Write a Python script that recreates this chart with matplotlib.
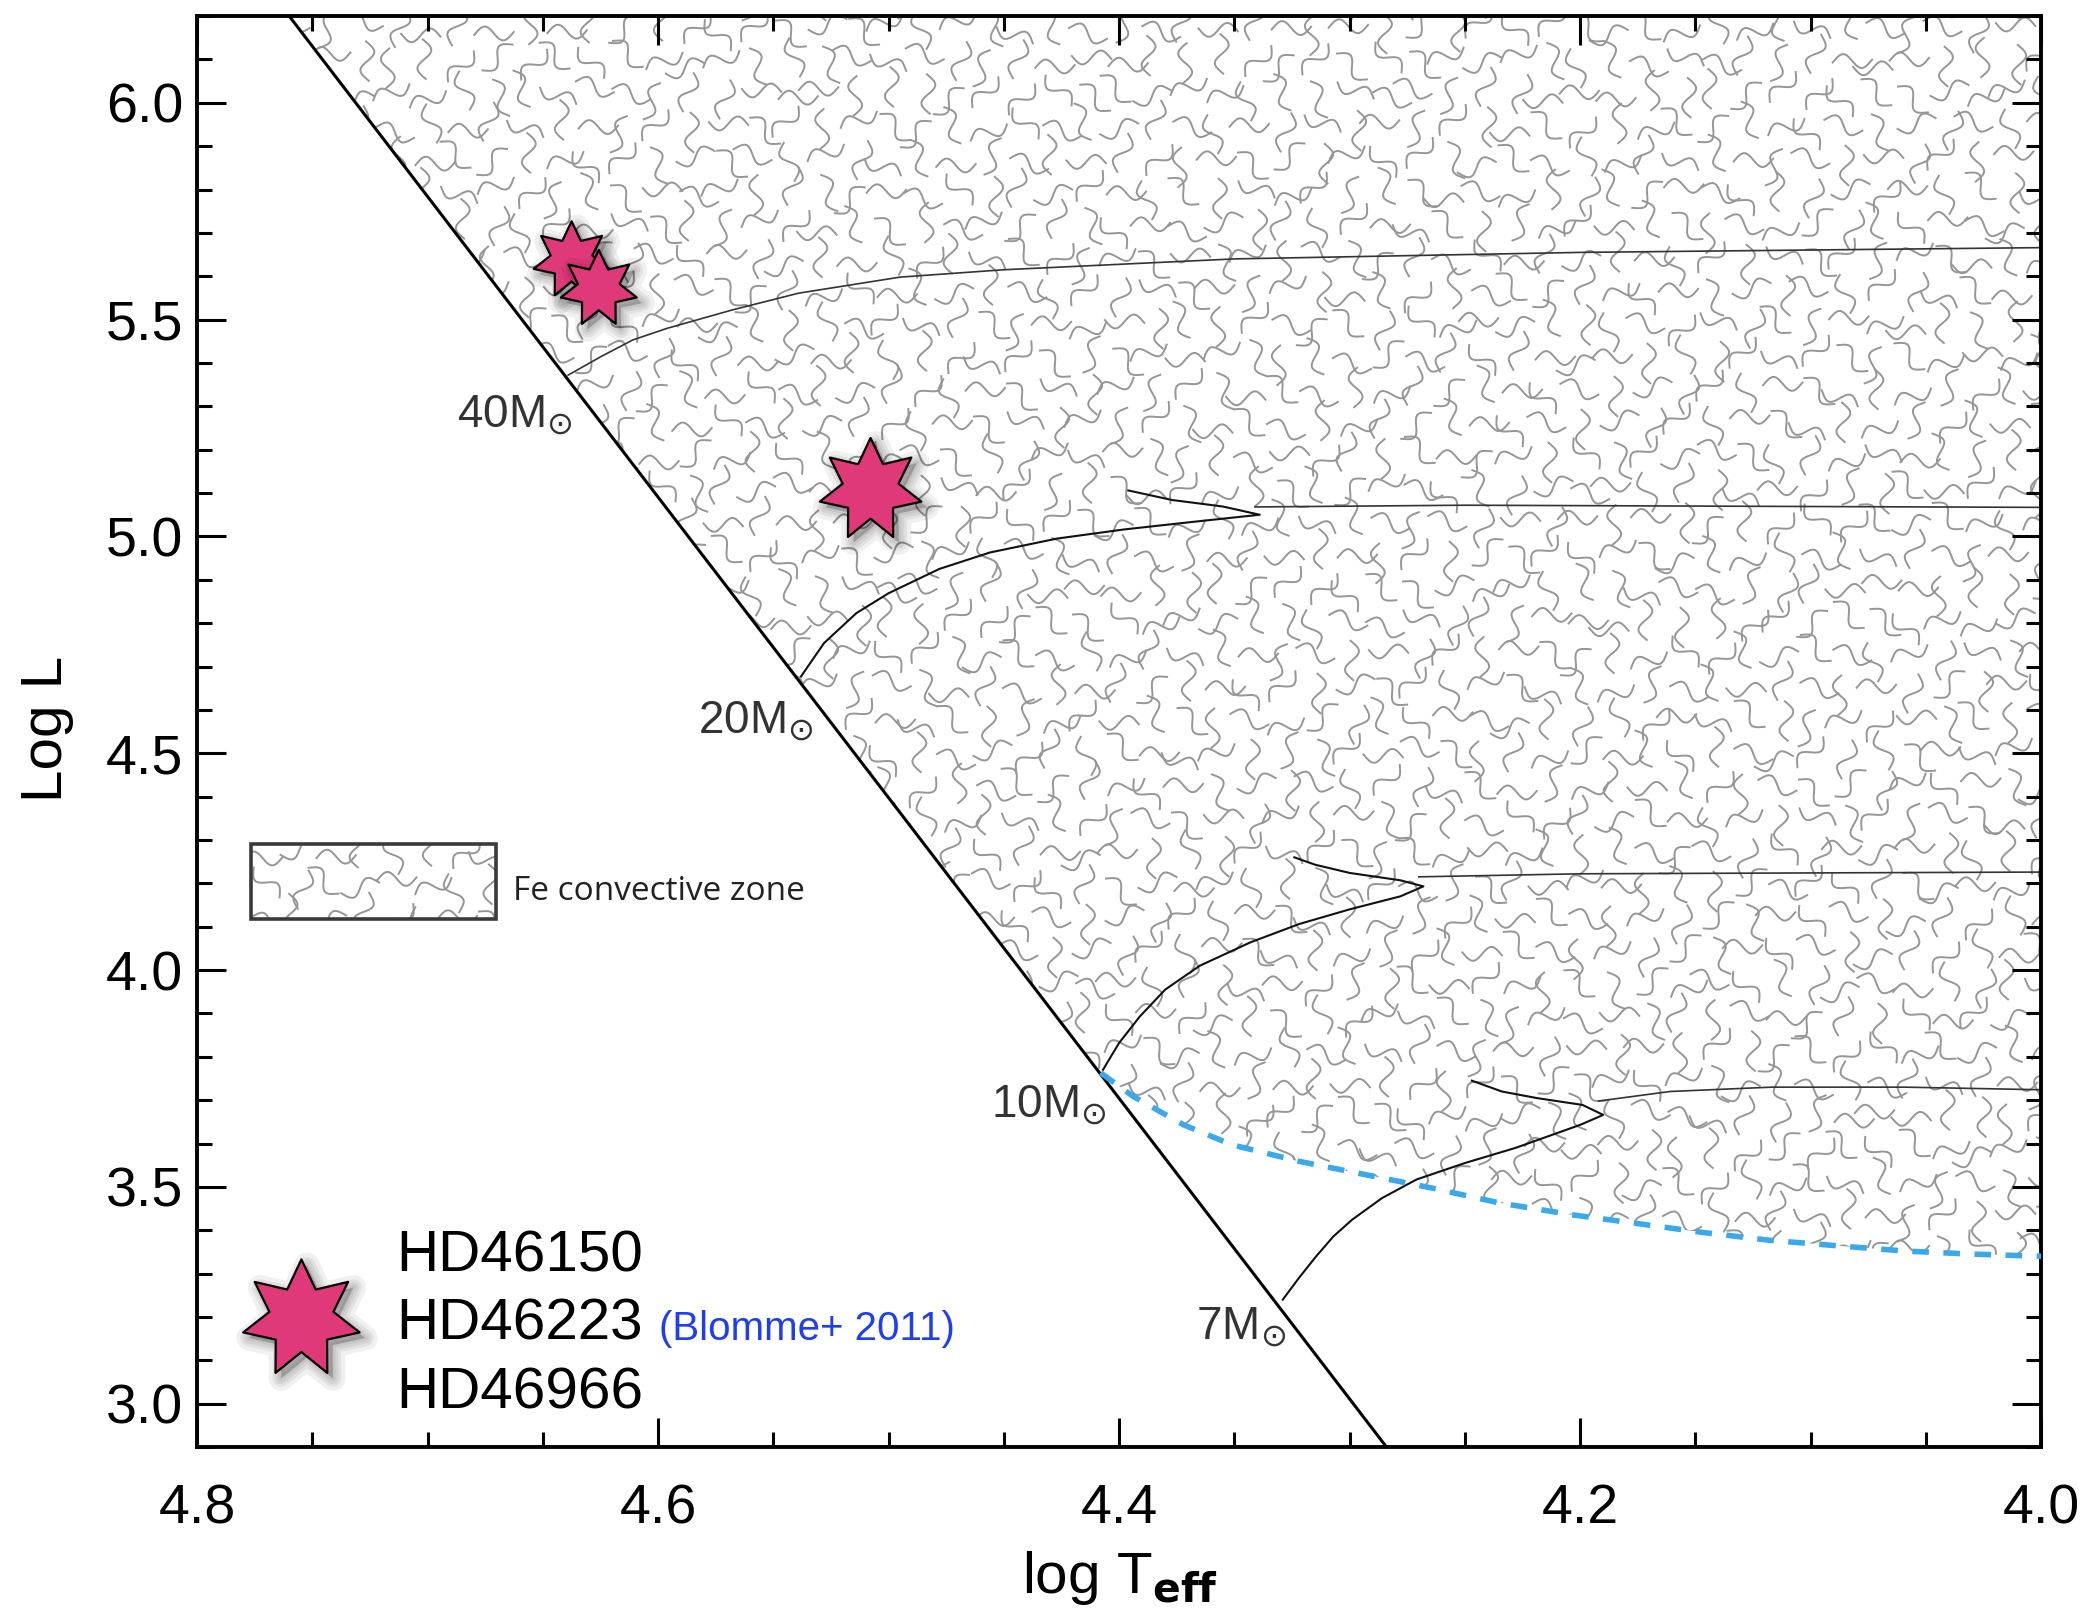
import numpy as np
import matplotlib
matplotlib.use('Agg')
import matplotlib.pyplot as plt
import matplotlib.patheffects as pe
from matplotlib.collections import LineCollection
from matplotlib.patches import Polygon, Rectangle
from matplotlib.path import Path
from matplotlib.markers import MarkerStyle
from matplotlib.transforms import Affine2D

plt.rcParams['font.family'] = ['Liberation Sans', 'DejaVu Sans']

# axis ranges and ticks
x_lim = (4.8, 4.0)
y_lim = (2.9, 6.2)
x_major = [4.8, 4.6, 4.4, 4.2, 4.0]
y_major = [3.0, 3.5, 4.0, 4.5, 5.0, 5.5, 6.0]

# zero age main sequence
zams_logt = [4.760, 4.284]
zams_logl = [6.20, 2.90]

# evolutionary tracks: main sequence + hook, then the crossing branch
t40_logt = [4.639, 4.625, 4.611, 4.596, 4.568, 4.539, 4.495, 4.450, 4.350, 4.200, 4.000]
t40_logl = [5.372, 5.414, 5.453, 5.480, 5.522, 5.561, 5.598, 5.615, 5.640, 5.655, 5.666]

t20_logt = [4.538, 4.528, 4.514, 4.500, 4.478, 4.456, 4.427, 4.398, 4.369, 4.339, 4.355, 4.377, 4.396]
t20_logl = [4.677, 4.754, 4.823, 4.869, 4.925, 4.963, 4.995, 5.016, 5.033, 5.050, 5.069, 5.084, 5.106]
h20_logt = [4.341, 4.250, 4.100, 4.000]
h20_logl = [5.068, 5.072, 5.069, 5.067]

t10_logt = [4.407, 4.400, 4.391, 4.380, 4.365, 4.343, 4.322, 4.300, 4.278, 4.268, 4.278, 4.300, 4.315, 4.324]
t10_logl = [3.770, 3.832, 3.893, 3.955, 4.010, 4.064, 4.106, 4.140, 4.170, 4.193, 4.207, 4.224, 4.243, 4.260]
h10_logt = [4.270, 4.200, 4.100, 4.000]
h10_logl = [4.215, 4.222, 4.224, 4.226]

t7_logt = [4.329, 4.322, 4.3145, 4.307, 4.299, 4.286, 4.271, 4.250, 4.228, 4.200, 4.190,
           4.199, 4.219, 4.234, 4.247]
t7_logl = [3.240, 3.290, 3.340, 3.386, 3.424, 3.474, 3.517, 3.555, 3.590, 3.643, 3.666,
           3.689, 3.705, 3.720, 3.745]
h7_logt = [4.192, 4.161, 4.117, 4.059, 4.000]
h7_logl = [3.698, 3.720, 3.730, 3.730, 3.724]

# lower edge of the Fe convective zone
fecz_logt = [4.408, 4.394, 4.372, 4.351, 4.322, 4.293, 4.264, 4.235, 4.204,
             4.176, 4.147, 4.118, 4.088, 4.059, 4.030, 4.000]
fecz_logl = [3.763, 3.709, 3.643, 3.597, 3.559, 3.528, 3.497, 3.463, 3.436,
             3.416, 3.395, 3.377, 3.364, 3.352, 3.345, 3.340]

# observed stars
star_logt = [4.6375, 4.6257, 4.5078]
star_logl = [5.637, 5.571, 5.107]
star_names = ['HD46150', 'HD46223', 'HD46966']

mass_labels = ['40M$_{\\odot}$', '20M$_{\\odot}$', '10M$_{\\odot}$', '7M$_{\\odot}$']

# --- layout ---
fig_w, fig_h, dpi = 20.91, 16.23, 100
ax_rect = [0.0942, 0.1084, 0.8820, 0.8817]
fig = plt.figure(figsize=(fig_w, fig_h), dpi=dpi)
ax = fig.add_axes(ax_rect)
ax.set_xlim(*x_lim)
ax.set_ylim(*y_lim)

# squiggle texture, built in axes pixels
W = ax_rect[2] * fig_w * dpi
H = ax_rect[3] * fig_h * dpi
step, slen, amp = 33.0, 37.0, 7.0
angles = np.deg2rad([0, 90, 45, 135, 20, 110, 160, 70])
tt = np.linspace(-0.05, 1.05, 18)
segs = []
for i, yc in enumerate(np.arange(-step, H + step, step)):
    for j, xc in enumerate(np.arange(-step, W + step, step)):
        a = angles[(i * 5 + j * 3 + (i // 2) * (j % 3)) % len(angles)]
        sgn = -1 if (i + 2 * j) % 3 == 0 else 1
        dx = ((i * 7 + j * 11) % 9 - 4) * 1.8
        dy = ((i * 13 + j * 5) % 9 - 4) * 1.8
        u = (tt - 0.5) * slen
        v = sgn * amp * np.sin(2 * np.pi * tt)
        xs = xc + dx + u * np.cos(a) - v * np.sin(a)
        ys = yc + dy + u * np.sin(a) + v * np.cos(a)
        segs.append(np.column_stack([xs, ys]))
px_to_axes = Affine2D().scale(1.0 / W, 1.0 / H) + ax.transAxes

region = np.column_stack([[zams_logt[0]] + fecz_logt + [x_lim[1]],
                          [zams_logl[0]] + fecz_logl + [y_lim[1]]])
region_patch = Polygon(region, closed=True, facecolor='none', edgecolor='none')
ax.add_patch(region_patch)
lc = LineCollection(segs, colors='#969696', linewidths=1.4, transform=px_to_axes, zorder=1)
ax.add_collection(lc)
lc.set_clip_path(region_patch)

# legend box for the Fe convective zone
box = Rectangle((4.6704, 4.118), 0.1062, 0.173, fill=False, edgecolor='#3a3a3a',
                linewidth=2.6, zorder=4)
ax.add_patch(box)
lc2 = LineCollection(segs, colors='#969696', linewidths=1.4, transform=px_to_axes, zorder=1)
ax.add_collection(lc2)
lc2.set_clip_path(box)
ax.text(4.663, 4.162, 'Fe convective zone', family=['Open Sans', 'DejaVu Sans'],
        fontsize=24, color='#222222', va='baseline', ha='left')

# tracks
for tx, ty in [(t20_logt, t20_logl), (t10_logt, t10_logl), (t7_logt, t7_logl)]:
    ax.plot(tx, ty, color='#111111', lw=1.5, zorder=2, solid_joinstyle='round')
for tx, ty in [(t40_logt, t40_logl), (h20_logt, h20_logl), (h10_logt, h10_logl), (h7_logt, h7_logl)]:
    ax.plot(tx, ty, color='#333333', lw=1.2, zorder=2)

ax.plot(zams_logt, zams_logl, color='black', lw=2.2, zorder=3)
ax.plot(fecz_logt, fecz_logl, color='#3aa9ec', lw=4.0, ls=(0, (3.0, 2.6)),
        dash_capstyle='butt', zorder=3)

# mass labels
label_t = [4.637, 4.5327, 4.4055, 4.3275]
label_l = [5.253, 4.546, 3.661, 3.148]
for s, lt, ll in zip(mass_labels, label_t, label_l):
    ax.text(lt, ll, s, fontsize=33, color='#333333', ha='right', va='baseline')

# stars with soft shadow
star_marker = MarkerStyle(Path.unit_regular_star(7, innerCircle=0.55), joinstyle='miter')
shadow = [pe.SimplePatchShadow(offset=(4, -4), shadow_rgbFace='black', alpha=0.06, linewidth=w)
          for w in (18, 12, 8, 4)] + [pe.Normal()]
star_sizes = [56, 56, 75]
for k, (st, sl) in enumerate(zip(star_logt, star_logl)):
    ax.plot([st], [sl], marker=star_marker, ms=star_sizes[k], mfc='#e0397a', mec='black',
            mew=1.6, ls='none', zorder=5 + k, path_effects=shadow)

ax.plot([4.7547], [3.195], marker=star_marker, ms=86, mfc='#e0397a', mec='black',
        mew=1.6, ls='none', zorder=5, path_effects=shadow)
for name, yb in zip(star_names, [3.306, 3.148, 2.988]):
    ax.text(4.7137, yb, name, fontsize=42, color='black', va='baseline', ha='left')
ax.text(4.5997, 3.148, '(Blomme+ 2011)', fontsize=29, color='#1f3df2', va='baseline', ha='left')

# axes styling
ax.set_xticks(x_major)
ax.set_xticklabels(['%.1f' % v for v in x_major])
ax.set_yticks(y_major)
ax.set_yticklabels(['%.1f' % v for v in y_major])
ax.set_xticks(np.arange(4.0, 4.8001, 0.05), minor=True)
ax.set_yticks(np.arange(2.9, 6.2001, 0.1), minor=True)
ax.tick_params(which='both', direction='in', top=True, right=True, width=2.2, labelsize=40)
ax.tick_params(which='major', length=21)
ax.tick_params(which='minor', length=11)
ax.tick_params(axis='x', pad=26)
ax.tick_params(axis='y', pad=10)
for sp in ax.spines.values():
    sp.set_linewidth(2.8)

fig.text(0.5356, 0.0182, 'log T$_{\\mathbf{eff}}$', fontsize=42, ha='center', va='baseline')
fig.text(0.0223, 0.5508, 'Log L', fontsize=42, rotation=90, ha='center', va='center')

fig.savefig('out.png', dpi=dpi)
